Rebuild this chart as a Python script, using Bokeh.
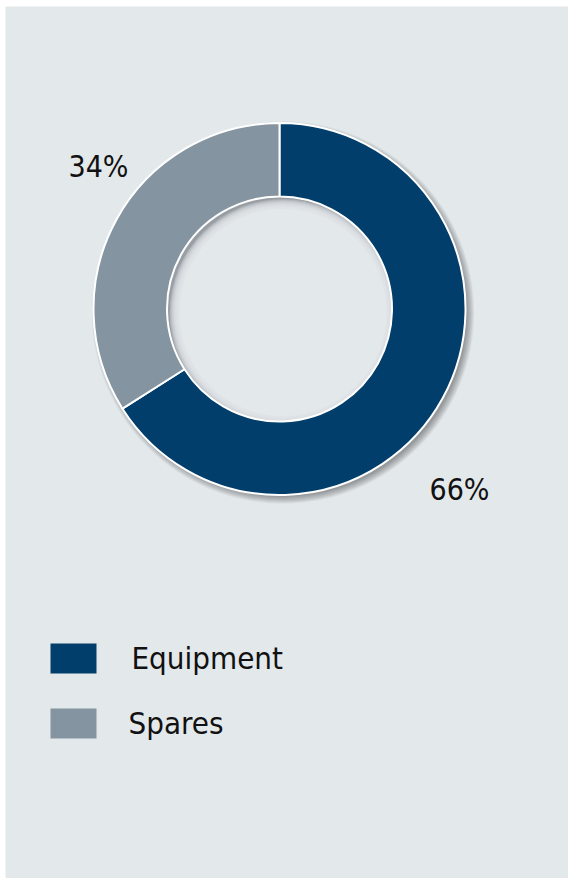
import math
from bokeh.plotting import figure
from bokeh.models import Range1d, ColumnDataSource
from bokeh.core.properties import value
from bokeh.embed import file_html
from bokeh.resources import INLINE

# ---- data ----
categories = ["Equipment", "Spares"]
shares = [66, 34]
labels = ["66%", "34%"]
colors = ["#023e6b", "#8494a0"]

# ---- layout ----
BG = "#e3e8eb"
W, H = 568, 878
FONT = "DejaVu Sans Condensed"
cx, cy_s = 279.0, 308.5          # centre in picture px
r_out, r_in = 186.0, 112.5

def Y(sy):                        # picture y -> data y
    return 886 - sy

p = figure(width=W, height=H, output_backend="svg", toolbar_location=None,
           x_range=Range1d(5, W), y_range=Range1d(886 - H, 886 - 6),
           min_border_left=5, min_border_top=6, min_border_right=0, min_border_bottom=0,
           background_fill_color=BG, border_fill_color="white")
p.axis.visible = False
p.grid.visible = False
p.outline_line_color = None

cy = Y(cy_s)

# outer soft shadow (offset down-right)
for k in range(9):
    p.circle(x=[cx + 3.5], y=[cy - 3.5], radius=r_out - 2 + k * 0.9,
             fill_color="black", fill_alpha=0.045, line_color=None)

# inner hole with shadow cast by the ring
p.circle(x=[cx], y=[cy], radius=r_in + 2, fill_color="#989ea3", line_color=None)
for k in range(12):
    p.circle(x=[cx + 3.5], y=[cy - 3.5], radius=r_in - 9 + k * 0.9,
             fill_color=BG, fill_alpha=0.26, line_color=None)
p.circle(x=[cx + 3.5], y=[cy - 3.5], radius=r_in - 9,
         fill_color=BG, line_color=None)

# donut slices (clockwise from 12 o'clock)
total = float(sum(shares))
starts, ends = [], []
a = math.pi / 2
for v in shares:
    sweep = 2 * math.pi * v / total
    starts.append(a - sweep)
    ends.append(a)
    a -= sweep
src = ColumnDataSource(dict(start=starts, end=ends, color=colors))
p.annular_wedge(x=cx, y=cy, inner_radius=r_in, outer_radius=r_out,
                start_angle="start", end_angle="end", source=src,
                fill_color="color", line_color="white", line_width=2)

# percentage labels (baseline correction for svg text layout)
lab_fs = 30
lab_x = [429, 68]
lab_y = [Y(501 - 0.4 * lab_fs), Y(178 - 0.4 * lab_fs)]
p.text(x=lab_x, y=lab_y, text=labels, text_font=value(FONT),
       text_font_size=f"{lab_fs}px", text_color="#111111",
       text_baseline="alphabetic", text_align="left")

# legend
leg_fs = 31
sw_x = [73, 73]
sw_y = [Y(658), Y(723)]
p.rect(x=sw_x, y=sw_y, width=46, height=30, fill_color=colors, line_color=None)
p.text(x=[131, 128], y=[Y(670 - 0.4 * leg_fs), Y(735 - 0.4 * leg_fs)],
       text=categories, text_font=value(FONT),
       text_font_size=f"{leg_fs}px", text_color="#111111",
       text_baseline="alphabetic", text_align="left")

open("out.html", "w").write(file_html(p, INLINE))
